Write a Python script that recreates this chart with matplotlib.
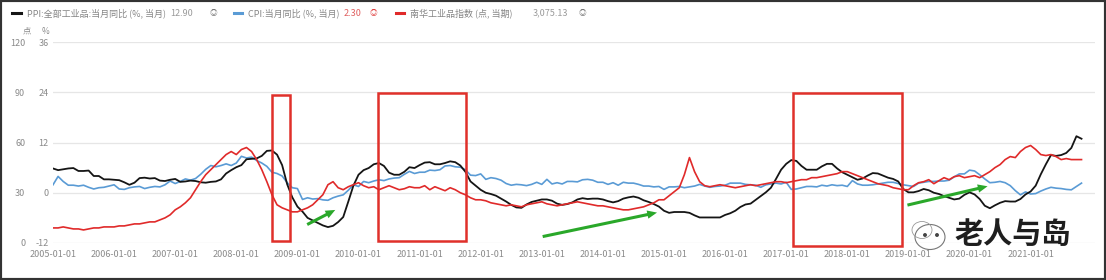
import numpy as np
import matplotlib
matplotlib.use("Agg")
import matplotlib.pyplot as plt
from matplotlib.lines import Line2D
from matplotlib.patches import Rectangle, Ellipse, FancyArrowPatch

plt.rcParams['font.family'] = ['Noto Sans CJK SC', 'DejaVu Sans']

# ---------------- data (monthly, 2005-01 .. 2021-11) ----------------
start_year = 2005
ppi = [5.8, 5.4, 5.6, 5.8, 5.9, 5.2, 5.2, 5.3, 4.0, 4.0, 3.2, 3.2,
       3.1, 3.0, 2.5, 1.9, 2.4, 3.5, 3.6, 3.4, 3.5, 2.9, 2.8, 3.1,
       3.3, 2.6, 2.7, 2.9, 2.8, 2.5, 2.4, 2.6, 2.7, 3.2, 4.6, 5.4,
       6.1, 6.6, 8.0, 8.1, 8.2, 8.8, 10.0, 10.1, 9.1, 6.6, 2.0, -1.1,
       -3.3, -4.5, -6.0, -6.6, -7.2, -7.8, -8.2, -7.9, -7.0, -5.8, -2.1, 1.7,
       4.3, 5.4, 5.9, 6.8, 7.1, 6.4, 4.8, 4.3, 4.3, 5.0, 6.1, 5.9,
       6.6, 7.2, 7.3, 6.8, 6.8, 7.1, 7.5, 7.3, 6.5, 5.0, 2.7, 1.7,
       0.7, 0.0, -0.3, -0.7, -1.4, -2.1, -2.9, -3.5, -3.6, -2.8, -2.2, -1.9,
       -1.6, -1.6, -1.9, -2.6, -2.9, -2.7, -2.3, -1.6, -1.3, -1.5, -1.4, -1.4,
       -1.6, -2.0, -2.3, -2.0, -1.4, -1.1, -0.9, -1.2, -1.8, -2.2, -2.7, -3.3,
       -4.3, -4.8, -4.6, -4.6, -4.6, -4.8, -5.4, -5.9, -5.9, -5.9, -5.9, -5.9,
       -5.3, -4.9, -4.3, -3.4, -2.8, -2.6, -1.7, -0.8, 0.1, 1.2, 3.3, 5.5,
       6.9, 7.8, 7.6, 6.4, 5.5, 5.5, 5.5, 6.3, 6.9, 6.9, 5.8, 4.9,
       4.3, 3.7, 3.1, 3.4, 4.1, 4.7, 4.6, 4.1, 3.6, 3.3, 2.7, 0.9,
       0.1, 0.1, 0.4, 0.9, 0.6, 0.0, -0.3, -0.8, -1.2, -1.6, -1.4, -0.5,
       0.1, -0.4, -1.5, -3.1, -3.7, -3.0, -2.4, -2.0, -2.1, -2.1, -1.5, -0.4,
       0.3, 1.7, 4.4, 6.8, 9.0, 8.8, 9.0, 9.5, 10.7, 13.5, 12.9]

cpi = [1.9, 3.9, 2.7, 1.8, 1.8, 1.6, 1.8, 1.3, 0.9, 1.2, 1.3, 1.6,
       1.9, 0.9, 0.8, 1.2, 1.4, 1.5, 1.0, 1.3, 1.5, 1.4, 1.9, 2.8,
       2.2, 2.7, 3.3, 3.0, 3.4, 4.4, 5.6, 6.5, 6.2, 6.5, 6.9, 6.5,
       7.1, 8.7, 8.3, 8.5, 7.7, 7.1, 6.3, 4.9, 4.6, 4.0, 2.4, 1.2,
       1.0, -1.6, -1.2, -1.5, -1.4, -1.7, -1.8, -1.2, -0.8, -0.5, 0.6, 1.9,
       1.5, 2.7, 2.4, 2.8, 3.1, 2.9, 3.3, 3.5, 3.6, 4.4, 5.1, 4.6,
       4.9, 4.9, 5.4, 5.3, 5.5, 6.4, 6.5, 6.2, 6.1, 5.5, 4.2, 4.1,
       4.5, 3.2, 3.6, 3.4, 3.0, 2.2, 1.8, 2.0, 1.9, 1.7, 2.0, 2.5,
       2.0, 3.2, 2.1, 2.4, 2.1, 2.7, 2.7, 2.6, 3.1, 3.2, 3.0, 2.5,
       2.5, 2.0, 2.4, 1.8, 2.5, 2.3, 2.3, 2.0, 1.6, 1.6, 1.4, 1.5,
       0.8, 1.4, 1.4, 1.5, 1.2, 1.4, 1.6, 2.0, 1.6, 1.3, 1.5, 1.6,
       1.8, 2.3, 2.3, 2.3, 2.0, 1.9, 1.8, 1.3, 1.9, 2.1, 2.3, 2.1,
       2.5, 0.8, 0.9, 1.2, 1.5, 1.5, 1.4, 1.8, 1.6, 1.9, 1.7, 1.8,
       1.5, 2.9, 2.1, 1.8, 1.8, 1.9, 2.1, 2.3, 2.5, 2.5, 2.2, 1.9,
       1.7, 1.5, 2.3, 2.5, 2.7, 2.7, 2.8, 2.8, 3.0, 3.8, 4.5, 4.5,
       5.4, 5.2, 4.3, 3.3, 2.4, 2.5, 2.7, 2.4, 1.7, 0.5, -0.5, 0.2,
       -0.3, -0.2, 0.4, 0.9, 1.3, 1.1, 1.0, 0.8, 0.7, 1.5, 2.3]

red_idx = [9.0, 9.0, 9.6, 9.0, 8.4, 8.4, 7.8, 8.4, 9.0, 9.0, 9.6, 9.6,
           9.6, 10.2, 10.2, 10.8, 11.4, 11.4, 12.0, 12.6, 12.6, 13.8, 15.0, 16.8,
           19.8, 21.6, 24.0, 27.0, 31.8, 36.6, 40.8, 43.8, 46.8, 49.8, 52.8, 54.6,
           52.8, 55.8, 57.0, 54.6, 49.8, 43.8, 36.6, 28.8, 22.8, 21.0, 19.8, 18.6,
           18.6, 19.8, 21.0, 22.8, 25.8, 28.8, 34.8, 36.6, 33.0, 31.8, 33.6, 34.8,
           36.0, 34.2, 33.0, 33.6, 31.8, 33.0, 34.2, 33.0, 31.8, 32.4, 33.6, 33.0,
           33.0, 34.2, 31.8, 33.6, 32.4, 31.2, 33.0, 31.8, 30.0, 28.8, 27.0, 25.8,
           25.8, 25.2, 24.0, 23.4, 22.8, 22.2, 22.8, 22.2, 21.6, 22.8, 23.4, 24.0,
           24.6, 23.4, 22.8, 22.2, 22.8, 23.4, 24.0, 24.6, 24.0, 23.4, 22.8, 22.2,
           22.2, 21.6, 21.0, 20.4, 19.8, 19.8, 20.4, 21.0, 21.6, 22.8, 24.0, 25.8,
           25.8, 28.2, 30.6, 33.0, 40.8, 51.0, 42.6, 36.6, 34.2, 33.6, 34.2, 34.8,
           34.2, 33.6, 33.0, 33.6, 34.2, 34.8, 34.2, 34.8, 35.4, 36.0, 36.6, 36.6,
           36.0, 36.6, 37.2, 37.8, 37.8, 39.0, 39.0, 39.6, 40.2, 40.8, 41.4, 42.6,
           42.6, 41.4, 40.2, 39.0, 37.8, 36.6, 35.4, 34.8, 34.2, 33.0, 32.4, 31.8,
           31.8, 34.2, 36.0, 36.6, 37.8, 35.4, 37.2, 39.0, 37.8, 39.6, 40.2, 39.0,
           39.6, 40.2, 39.0, 40.8, 42.6, 45.0, 46.8, 49.8, 51.6, 51.0, 54.6, 57.0,
           58.2, 55.8, 52.8, 52.2, 52.8, 51.6, 49.8, 50.4, 49.8, 49.8, 49.8]

legend_names = ["PPI:全部工业品:当月同比 (%, 当月)", "CPI:当月同比 (%, 当月)", "南华工业品指数 (点, 当期)"]
legend_values = ["12.90", "2.30", "3,075.13"]
left_ticks = [-12, 0, 12, 24, 36]
red_ticks = [0, 30, 60, 90, 120]
year_ticks = list(range(2005, 2022))
year_labels = [f"{y}-01-01" for y in year_ticks]

# annotation boxes (x in years, y in % axis units) and arrows
boxes = [(2008.58, 2008.88, -11.5, 23.4), (2010.32, 2011.76, -11.5, 23.9), (2017.11, 2018.90, -12.6, 23.9)]
arrows = [((2009.12, -7.9), (2009.66, -3.8)), ((2012.97, -10.6), (2014.93, -4.6)), ((2018.94, -3.1), (2020.34, 1.7))]

# ---------------- figure ----------------
W, H = 1106, 280
fig = plt.figure(figsize=(W / 100, H / 100), dpi=100)
fig.patch.set_facecolor("white")

def fx(px):
    return px / W

def fy(py):
    return 1 - py / H

ax = fig.add_axes([fx(53), fy(243), fx(1095) - fx(53), fy(42) - fy(243)])
n = len(ppi)
x = start_year + np.arange(n) / 12.0

grid_c = "#e6e6e6"
tick_c = "#8a8a8a"
ax.set_xlim(start_year, start_year + (1095 - 53) / 61.1)
ax.set_ylim(left_ticks[0], left_ticks[-1])
ax.set_yticks(left_ticks)
ax.set_yticklabels([str(t) for t in left_ticks])
ax.yaxis.grid(True, color=grid_c, lw=0.9)
ax.set_axisbelow(True)
for s in ax.spines.values():
    s.set_visible(False)
ax.tick_params(axis='y', length=0, pad=3, labelsize=6.5, labelcolor=tick_c)
ax.set_xticks(year_ticks)
ax.set_xticklabels(year_labels)
ax.tick_params(axis='x', length=0, pad=5, labelsize=6.5, labelcolor=tick_c)

ax.plot(x, cpi, color="#5a9bd5", lw=1.2, zorder=3)
ax.plot(x, ppi, color="#151515", lw=1.3, zorder=4)

ax2 = ax.twinx()
ax2.set_ylim(red_ticks[0], red_ticks[-1])
ax2.set_yticks(red_ticks)
ax2.set_yticklabels([str(t) for t in red_ticks])
ax2.yaxis.tick_left()
ax2.tick_params(axis='y', length=0, pad=20, labelsize=6.5, labelcolor=tick_c)
for s in ax2.spines.values():
    s.set_visible(False)
ax2.plot(x, red_idx, color="#e02a2a", lw=1.2, zorder=5)

# red boxes
for x0, x1, y0, y1 in boxes:
    ax.add_patch(Rectangle((x0, y0), x1 - x0, y1 - y0, fill=False, ec="#e0302a",
                           lw=1.8, zorder=6, clip_on=False))
# green arrows
for (xa, ya), (xb, yb) in arrows:
    ax.add_patch(FancyArrowPatch((xa, ya), (xb, yb),
                                 arrowstyle="simple,head_width=6,head_length=7,tail_width=2.2",
                                 color="#2aa82a", lw=0, zorder=7, clip_on=False))

# axis units
fig.text(fx(31), fy(31), "点", fontsize=6, color=tick_c, ha="right", va="center")
fig.text(fx(49), fy(31), "%", fontsize=6, color=tick_c, ha="right", va="center")

# legend
leg_colors = ["#151515", "#5a9bd5", "#e02a2a"]
line_x = [(12, 21), (234, 242), (396, 404)]
text_x = [27, 248, 410]
val_x = [170, 344, 533]
val_c = ["#9a9a9a", "#e06060", "#9a9a9a"]
icon_x = [213, 373, 582]
icon_c = ["#777777", "#e04040", "#777777"]
ly = fy(13)
for i in range(3):
    fig.add_artist(Line2D([fx(line_x[i][0]), fx(line_x[i][1])], [ly, ly],
                          color=leg_colors[i], lw=2.2, transform=fig.transFigure))
    fig.text(fx(text_x[i]), ly, legend_names[i], fontsize=6.5, color="#858585",
             ha="left", va="center")
    fig.text(fx(val_x[i]), ly, legend_values[i], fontsize=6.5, color=val_c[i],
             ha="left", va="center")
    fig.text(fx(icon_x[i]), ly, "◎", fontsize=5.5, color=icon_c[i],
             ha="center", va="center")

# watermark
fig.add_artist(Ellipse((fx(930), fy(237)), 30 / W, 25 / H, fill=False,
                       ec="#777777", lw=0.8, transform=fig.transFigure))
fig.add_artist(Ellipse((fx(922), fy(230)), 20 / W, 17 / H, fill=False,
                       ec="#999999", lw=0.6, transform=fig.transFigure))
for dx in (925, 937):
    fig.add_artist(Ellipse((fx(dx), fy(235)), 2.5 / W, 2.5 / H, color="#444444",
                           transform=fig.transFigure))
fig.text(fx(954), fy(234), "老人与岛", fontsize=21, color="#1e1e1e",
         fontweight="bold", ha="left", va="center")

# outer frame
fig.add_artist(Rectangle((0, 0), 1, 1, fill=False, ec="#333333", lw=3,
                         transform=fig.transFigure))

fig.savefig("out.png", dpi=100)
